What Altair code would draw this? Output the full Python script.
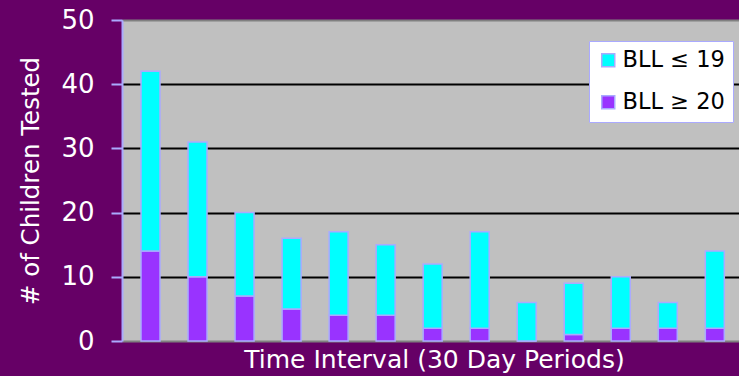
import altair as alt
import pandas as pd

# Children tested per 30-day period, split by blood lead level
periods = list(range(1, 14))
bll_low = [28, 21, 13, 11, 13, 11, 10, 15, 6, 8, 8, 4, 12]   # BLL <= 19
bll_high = [14, 10, 7, 5, 4, 4, 2, 2, 0, 1, 2, 2, 2]          # BLL >= 20
series = ["BLL ≤ 19", "BLL ≥ 20"]
series_colors = ["#00FFFF", "#9933FF"]

rows = []
for p, lo, hi in zip(periods, bll_low, bll_high):
    rows.append({"period": p, "group": series[1], "count": hi, "stack_rank": 0})
    rows.append({"period": p, "group": series[0], "count": lo, "stack_rank": 1})
df = pd.DataFrame(rows)

FONT = "DejaVu Sans"
LAVENDER = "#AAAAFF"

bars = alt.Chart(df).mark_bar(
    size=19, stroke=LAVENDER, strokeWidth=1.5
).encode(
    x=alt.X(
        "period:Q",
        scale=alt.Scale(domain=[0.5, 13.408], nice=False, zero=False),
        axis=alt.Axis(
            title="Time Interval (30 Day Periods)",
            labels=False, ticks=False, domain=False, grid=False,
            titleColor="white", titleFont=FONT, titleFontSize=25,
            titleFontWeight="normal", titleBaseline="alphabetic",
            titleY=26, titleX=312,
        ),
    ),
    y=alt.Y(
        "count:Q",
        stack="zero",
        scale=alt.Scale(domain=[0, 50], nice=False),
        axis=alt.Axis(
            title="# of Children Tested",
            values=[0, 10, 20, 30, 40, 50],
            labelColor="white", labelFont=FONT, labelFontSize=26,
            labelPadding=17,
            tickColor=LAVENDER, tickSize=11, tickWidth=2,
            domainColor=LAVENDER, domainWidth=2,
            grid=True,
            gridColor={
                "condition": {"test": "datum.value === 0 || datum.value === 50",
                              "value": "#808080"},
                "value": "black",
            },
            gridWidth=2,
            titleColor="white", titleFont=FONT, titleFontSize=24.5,
            titleFontWeight="normal", titleBaseline="alphabetic",
            titleX=-84,
        ),
    ),
    color=alt.Color(
        "group:N",
        scale=alt.Scale(domain=series, range=series_colors),
        legend=alt.Legend(
            title=None, orient="none", legendX=467, legendY=21,
            fillColor="white", strokeColor=LAVENDER, padding=8,
            symbolType="square", symbolSize=169,
            symbolStrokeColor=LAVENDER, symbolStrokeWidth=1.5,
            symbolOpacity=1,
            labelFont=FONT, labelFontSize=22.5, labelColor="black",
            labelOffset=3, labelLimit=300, rowPadding=19,
        ),
    ),
    order=alt.Order("stack_rank:Q"),
).properties(
    width=617,
    height=321,
    autosize=alt.AutoSizeParams(type="none"),
    padding={"left": 122, "top": 20, "right": 0, "bottom": 35},
    background="#660066",
).configure_view(
    fill="#C0C0C0", stroke=None
)

chart = bars
chart.save("out.html", embed_options={"renderer": "svg", "actions": False})
